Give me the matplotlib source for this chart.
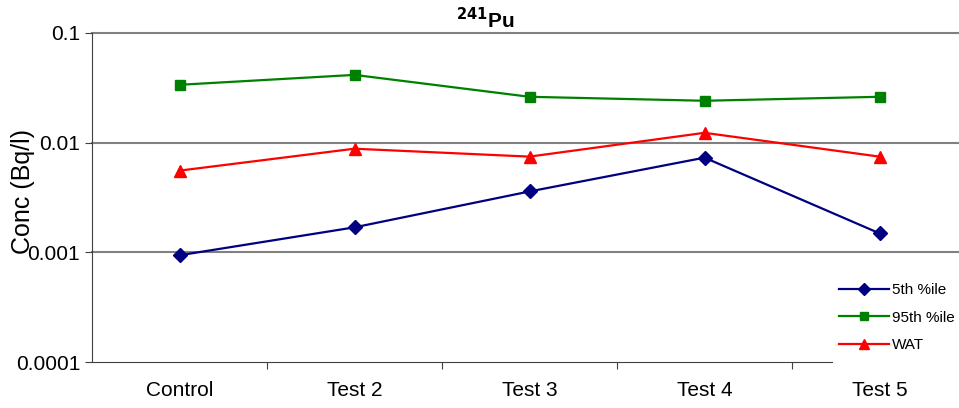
import matplotlib.pyplot as plt
from matplotlib.ticker import FixedLocator, NullLocator

plt.rcParams['font.family'] = ['Liberation Sans', 'DejaVu Sans']

# Datos
categorias = ["Control", "Test 2", "Test 3", "Test 4", "Test 5"]
p5 = [0.00094, 0.00169, 0.00359, 0.0073, 0.00149]
p95 = [0.0337, 0.0415, 0.0262, 0.0241, 0.0262]
wat = [0.00556, 0.00881, 0.00746, 0.0123, 0.00746]
yticks = [0.0001, 0.001, 0.01, 0.1]
ytick_labels = ["0.0001", "0.001", "0.01", "0.1"]

fig = plt.figure(figsize=(9.59, 4.08), dpi=100)
ax = fig.add_axes([92 / 959, 1 - 362 / 408, 875 / 959, 329 / 408])

x = list(range(len(categorias)))
ax.plot(x, p5, color='#000080', marker='D', markersize=7, linewidth=1.6, label='5th %ile', zorder=5)
ax.plot(x, p95, color='#008000', marker='s', markersize=7, linewidth=1.6, label='95th %ile', zorder=5)
ax.plot(x, wat, color='#FF0000', marker='^', markersize=9, linewidth=1.6, label='WAT', zorder=5)

ax.set_yscale('log')
ax.set_ylim(0.0001, 0.1)
ax.set_xlim(-0.5, len(categorias) - 0.5)
ax.yaxis.set_major_locator(FixedLocator(yticks))
ax.yaxis.set_minor_locator(NullLocator())
ax.set_yticks(yticks)
ax.set_yticklabels(ytick_labels)

# Lineas de cuadricula (sin la del fondo)
for v in yticks[1:]:
    ax.axhline(v, color='#808080', linewidth=1.5, clip_on=False, zorder=1)

# Ticks del eje x entre categorias, etiquetas centradas
ax.set_xticks([i + 0.5 for i in range(len(categorias) - 1)])
ax.set_xticklabels([])
ax.set_xticks(x, minor=True)
ax.set_xticklabels(categorias, minor=True)
ax.tick_params(axis='x', which='minor', length=0, labelsize=15, pad=14)
ax.tick_params(axis='x', which='major', length=5, direction='out', color='#404040')
ax.tick_params(axis='y', labelsize=15, length=5, color='#404040')

for s in ['top', 'right']:
    ax.spines[s].set_visible(False)
ax.spines['left'].set_color('#404040')
ax.spines['bottom'].set_color('#404040')
# la leyenda tapa el final del eje
ax.spines['bottom'].set_bounds(-0.5, 3.73)

fig.text(23 / 959, 1 - 192 / 408, "Conc (Bq/l)", fontsize=18, rotation=90,
         ha='center', va='center')

fig.text(485 / 959, 1 - 20 / 408, r"$^{\mathbf{241}}$Pu", fontsize=15, fontweight='bold',
         ha='center', va='center')

leg = fig.legend(loc='upper left', bbox_to_anchor=(832 / 959, 1 - 276 / 408), fontsize=11,
                 frameon=False, handlelength=3.3, handletextpad=0.2, labelspacing=0.9,
                 borderpad=0.45, borderaxespad=0, markerscale=0.85)

plt.savefig('out.png', dpi=100)
